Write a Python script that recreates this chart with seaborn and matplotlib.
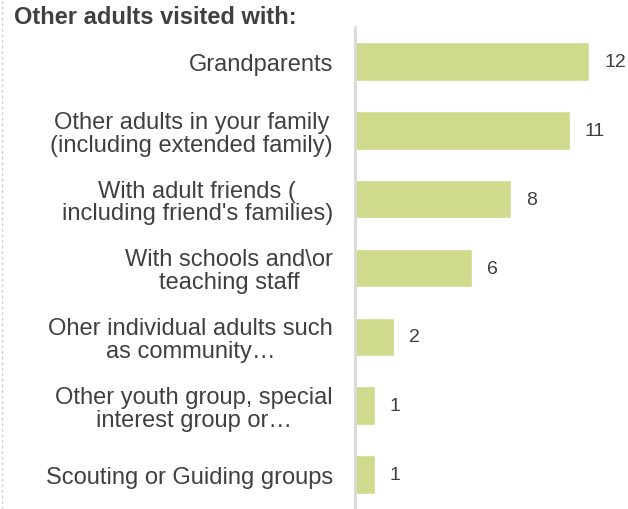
import matplotlib
matplotlib.use("Agg")
import matplotlib.pyplot as plt
from matplotlib.lines import Line2D
import seaborn as sns
import pandas as pd

categories = [
    "Grandparents",
    "Other adults in your family\n(including extended family)",
    "With adult friends (\nincluding friend's families)",
    "With schools and\\or\nteaching staff",
    "Oher individual adults such\nas community\u2026",
    "Other youth group, special\ninterest group or\u2026",
    "Scouting or Guiding groups",
]
counts = [12, 11, 8, 6, 2, 1, 1]
title = "Other adults visited with:"

bar_color = "#cfda8c"
text_color = "#404040"

sns.set_theme(style="white")
plt.rcParams["font.family"] = ["Liberation Sans", "DejaVu Sans"]

df = pd.DataFrame({"category": categories, "count": counts})

fig = plt.figure(figsize=(6.28, 5.10), dpi=100)
ax = fig.add_axes([355 / 628, 0.0, 273 / 628, 482 / 510])

sns.barplot(data=df, x="count", y="category", orient="h", color=bar_color,
            saturation=1, width=0.56, ax=ax)

ax.set_xlim(0, 14)
ax.set_ylim(len(categories) - 0.5, -0.5)
ax.set_xlabel("")
ax.set_ylabel("")
ax.set_xticks([])

for side in ("top", "right", "bottom"):
    ax.spines[side].set_visible(False)
ax.spines["left"].set_color("#d9d9d9")
ax.spines["left"].set_linewidth(2)

ax.tick_params(axis="y", length=0, pad=16, labelsize=17, labelcolor=text_color)
for lbl in ax.get_yticklabels():
    lbl.set_multialignment("center")
    lbl.set_linespacing(1.05)

for i, v in enumerate(counts):
    ax.annotate(str(v), xy=(v, i), xytext=(15, 0), textcoords="offset pixels",
                ha="left", va="center", fontsize=14, color=text_color)

fig.text(14 / 628, 1 - 18 / 510, title, ha="left", va="center",
         fontsize=17, fontweight="bold", color=text_color)

fig.add_artist(Line2D([2 / 628, 2 / 628], [0, 1], transform=fig.transFigure,
                      color="#d0d0d0", linewidth=1, linestyle=(0, (2, 2))))

fig.savefig("out.png", dpi=100)
